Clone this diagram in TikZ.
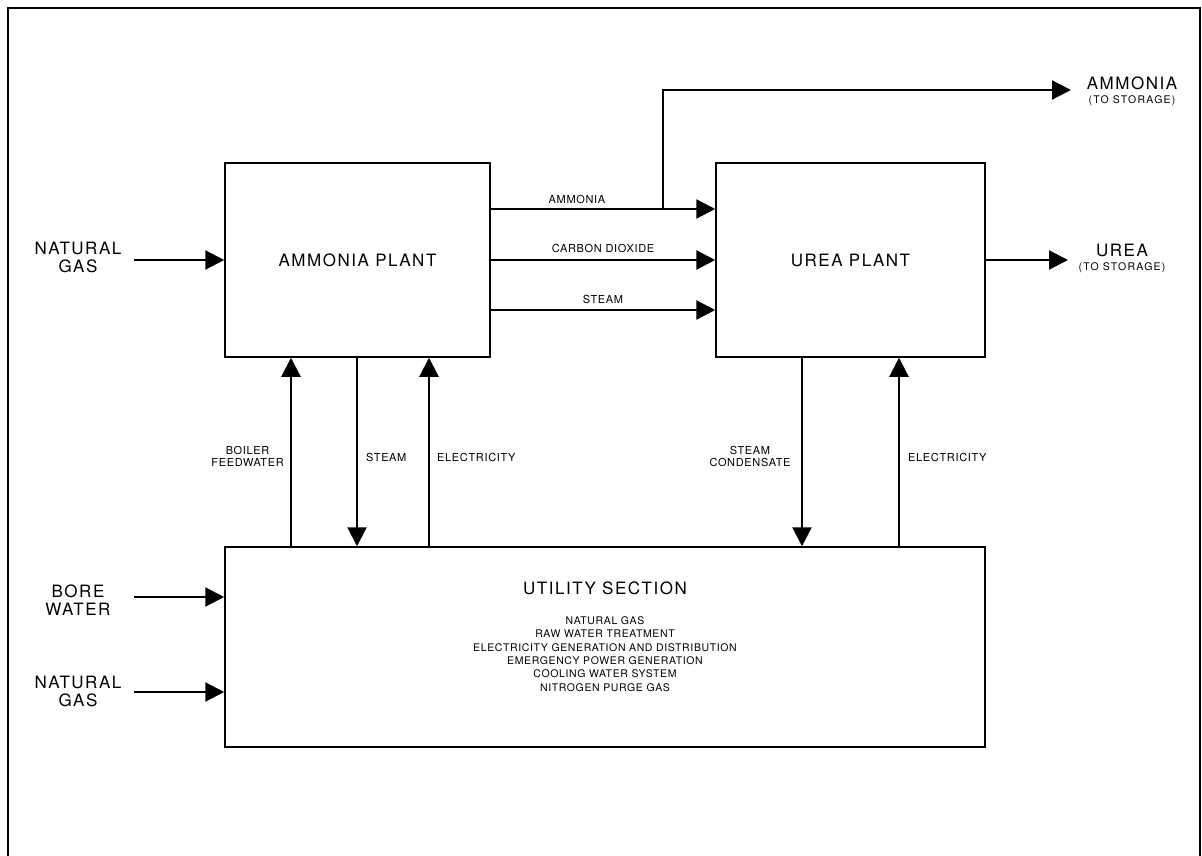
\documentclass[tikz,border=0pt]{standalone}
\usepackage{fontspec}
\setmainfont{TeX Gyre Heros}
\newfontfamily\bigf[LetterSpace=9]{TeX Gyre Heros}
\newfontfamily\smallf[LetterSpace=6]{TeX Gyre Heros}
\newfontfamily\subf[LetterSpace=12]{TeX Gyre Heros}
\usetikzlibrary{arrows.meta}
\begin{document}
\begin{tikzpicture}[x=1pt,y=-1pt,
  box/.style={draw, line width=1.5pt, inner sep=0pt},
  conn/.style={line width=2.2pt, -{Triangle[length=19pt,width=19pt]}},
  frameline/.style={line width=2pt},
  bigtxt/.style={font=\bigf\fontsize{17}{18}\selectfont, inner sep=0pt, align=center},
  smalltxt/.style={font=\smallf\fontsize{11}{12}\selectfont, inner sep=0pt, align=center},
  listtxt/.style={font=\smallf\fontsize{10.5}{13.4}\selectfont, inner sep=0pt, align=center},
  subtxt/.style={font=\subf\fontsize{10.5}{11}\selectfont, inner sep=0pt, align=center}]
\useasboundingbox (0,0) rectangle (1202,856);
\draw[frameline] (8,856) -- (8,8) -- (1200,8) -- (1200,856);

% boxes
\node[box, minimum width=265pt, minimum height=194pt] (ammonia) at (357.5,260) {};
\node[bigtxt] at (ammonia.center) {AMMONIA PLANT};
\node[box, minimum width=269pt, minimum height=194pt] (urea) at (850.5,260) {};
\node[bigtxt] at (urea.center) {UREA PLANT};
\node[box, minimum width=760pt, minimum height=200pt] (utility) at (605,647) {};
\node[bigtxt] (utitle) at (605,588) {UTILITY SECTION};
\node[listtxt] (ulist) at (605,654) {NATURAL GAS\\RAW WATER TREATMENT\\ELECTRICITY GENERATION AND DISTRIBUTION\\EMERGENCY POWER GENERATION\\COOLING WATER SYSTEM\\NITROGEN PURGE GAS};

% helper coordinates
\coordinate (yA) at (0,209);
\coordinate (yC) at (0,260);
\coordinate (yS) at (0,310);
\coordinate (yTop) at (0,90);
\coordinate (branch) at (663,209);
\coordinate (xBF) at (291,0);
\coordinate (xST) at (357,0);
\coordinate (xEL1) at (429,0);
\coordinate (xSC) at (802,0);
\coordinate (xEL2) at (899,0);

% inputs
\node[bigtxt] (ng1) at (78,257) {NATURAL\\GAS};
\node[bigtxt] (bw) at (78,600) {BORE\\WATER};
\node[bigtxt] (ng2) at (78,691) {NATURAL\\GAS};
\coordinate (ng1s) at (134,260);
\coordinate (bws) at (134,597);
\coordinate (ng2s) at (134,692);
\draw[conn] (ng1s) -- (ammonia.west |- ng1s);
\draw[conn] (bws) -- (utility.west |- bws);
\draw[conn] (ng2s) -- (utility.west |- ng2s);

% ammonia -> urea
\draw[conn] (ammonia.east |- yA) -- (urea.west |- yA);
\node[smalltxt] at (577,199) {AMMONIA};
\draw[conn] (ammonia.east |- yC) -- (urea.west |- yC);
\node[smalltxt] at (603,248) {CARBON DIOXIDE};
\draw[conn] (ammonia.east |- yS) -- (urea.west |- yS);
\node[smalltxt] at (603,299) {STEAM};

% outputs
\node[bigtxt] (ammout) at (1132,83) {AMMONIA};
\node[subtxt] (ammsub) at (1132,101) {(TO STORAGE)};
\coordinate (ammtip) at (1071,90);
\draw[conn] (branch) -- (branch |- yTop) -- (ammtip);
\node[bigtxt] (ureaout) at (1122,250) {UREA};
\node[subtxt] (ureasub) at (1122,268) {(TO STORAGE)};
\coordinate (ureatip) at (1068,260);
\draw[conn] (urea.east |- yC) -- (ureatip);

% verticals
\draw[conn] (utility.north -| xBF) -- (ammonia.south -| xBF);
\draw[conn] (ammonia.south -| xST) -- (utility.north -| xST);
\draw[conn] (utility.north -| xEL1) -- (ammonia.south -| xEL1);
\draw[conn] (urea.south -| xSC) -- (utility.north -| xSC);
\draw[conn] (utility.north -| xEL2) -- (urea.south -| xEL2);

\node[smalltxt, anchor=east] at (284,456) {BOILER\\FEEDWATER};
\node[smalltxt, anchor=west] at (366,457) {STEAM};
\node[smalltxt, anchor=west] at (437,457) {ELECTRICITY};
\node[smalltxt] at (750,456) {STEAM\\CONDENSATE};
\node[smalltxt, anchor=west] at (908,457) {ELECTRICITY};
\end{tikzpicture}
\end{document}
